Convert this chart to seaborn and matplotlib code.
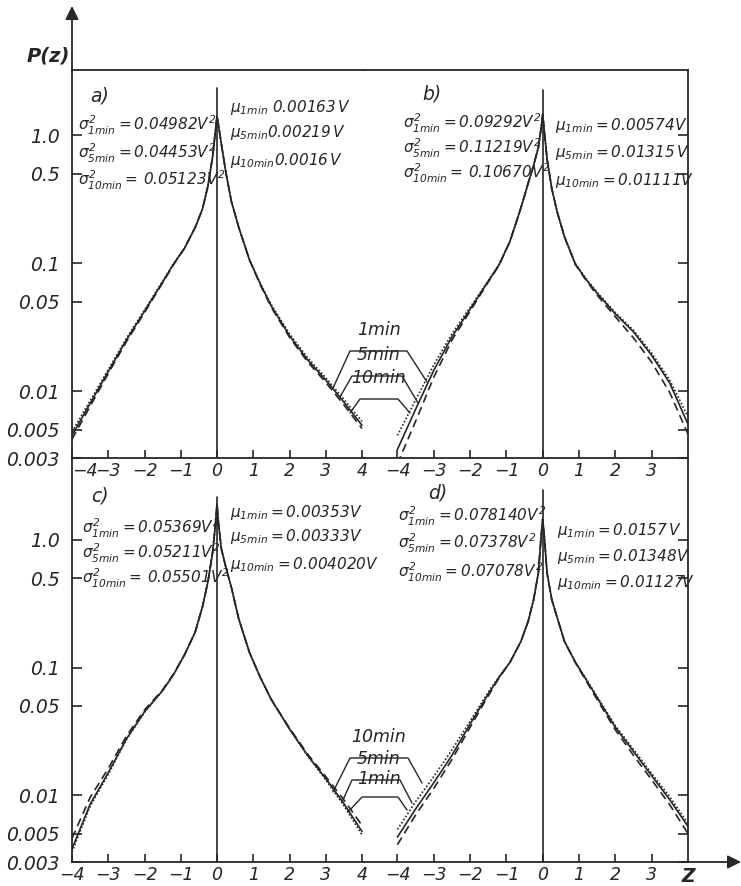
import pandas as pd
import matplotlib.pyplot as plt
import seaborn as sns

sns.set_style("white")
plt.rcParams['font.family'] = ['DejaVu Sans']
plt.rcParams['font.style'] = 'italic'
plt.rcParams['mathtext.fontset'] = 'custom'
plt.rcParams['mathtext.rm'] = 'DejaVu Sans:italic'
plt.rcParams['mathtext.it'] = 'DejaVu Sans:italic'
plt.rcParams['mathtext.bf'] = 'DejaVu Sans:italic:bold'

INK = '#262626'

# ---------------- data ----------------
z = [-4, -3.5, -3, -2.5, -2, -1.5, -1.2, -0.9, -0.6, -0.4, -0.25, -0.12, -0.04, 0,
     0.04, 0.12, 0.25, 0.4, 0.6, 0.9, 1.2, 1.5, 2, 2.5, 3, 3.5, 4]

a_1min = [0.0048, 0.0084, 0.0147, 0.0258, 0.043, 0.072, 0.099, 0.13, 0.19, 0.265, 0.4, 0.68, 1.1, 1.4,
          1.2, 0.85, 0.5, 0.3, 0.19, 0.105, 0.069, 0.047, 0.028, 0.0182, 0.0127, 0.0086, 0.0058]
a_5min = [0.0045, 0.008, 0.0142, 0.025, 0.042, 0.071, 0.098, 0.13, 0.19, 0.265, 0.4, 0.68, 1.1, 1.4,
          1.2, 0.85, 0.5, 0.3, 0.19, 0.105, 0.068, 0.046, 0.027, 0.0175, 0.0122, 0.0082, 0.0054]
a_10min = [0.0042, 0.0076, 0.0137, 0.0243, 0.041, 0.07, 0.097, 0.13, 0.19, 0.265, 0.4, 0.68, 1.1, 1.4,
           1.2, 0.85, 0.5, 0.3, 0.19, 0.105, 0.067, 0.045, 0.0263, 0.0169, 0.0117, 0.0078, 0.0051]

b_1min = [0.0045, 0.0085, 0.016, 0.028, 0.045, 0.073, 0.098, 0.148, 0.27, 0.42, 0.58, 0.8, 1.15, 1.45,
          1.1, 0.65, 0.38, 0.25, 0.16, 0.099, 0.075, 0.059, 0.041, 0.0298, 0.0198, 0.0121, 0.0063]
b_5min = [0.0035, 0.0072, 0.0145, 0.0265, 0.0435, 0.072, 0.097, 0.148, 0.27, 0.42, 0.58, 0.8, 1.15, 1.45,
          1.1, 0.65, 0.38, 0.25, 0.16, 0.098, 0.074, 0.058, 0.04, 0.029, 0.019, 0.0115, 0.0055]
b_10min = [0.0027, 0.0058, 0.0128, 0.025, 0.042, 0.071, 0.096, 0.148, 0.27, 0.42, 0.58, 0.8, 1.15, 1.45,
           1.1, 0.65, 0.38, 0.25, 0.16, 0.097, 0.073, 0.056, 0.038, 0.026, 0.0168, 0.0097, 0.0046]

c_1min = [0.0036, 0.0082, 0.0146, 0.0272, 0.0447, 0.066, 0.088, 0.125, 0.19, 0.3, 0.47, 0.8, 1.35, 1.9,
          1.35, 0.85, 0.6, 0.42, 0.24, 0.13, 0.083, 0.056, 0.033, 0.0203, 0.0132, 0.0083, 0.0049]
c_5min = [0.0038, 0.0085, 0.015, 0.0276, 0.045, 0.066, 0.088, 0.125, 0.19, 0.3, 0.47, 0.8, 1.35, 1.9,
          1.35, 0.85, 0.6, 0.42, 0.24, 0.13, 0.083, 0.056, 0.033, 0.0205, 0.0135, 0.0086, 0.0052]
c_10min = [0.0046, 0.0096, 0.0162, 0.029, 0.0465, 0.067, 0.089, 0.125, 0.19, 0.3, 0.47, 0.8, 1.35, 1.9,
           1.35, 0.85, 0.6, 0.42, 0.24, 0.13, 0.083, 0.056, 0.0335, 0.021, 0.014, 0.0092, 0.0058]

d_1min = [0.0054, 0.0089, 0.014, 0.0226, 0.038, 0.064, 0.085, 0.11, 0.16, 0.23, 0.34, 0.55, 1.1, 1.45,
          1.1, 0.55, 0.34, 0.245, 0.16, 0.11, 0.081, 0.059, 0.035, 0.0228, 0.0148, 0.0097, 0.006]
d_5min = [0.0047, 0.0078, 0.0125, 0.0205, 0.036, 0.062, 0.084, 0.11, 0.16, 0.23, 0.34, 0.55, 1.1, 1.45,
          1.1, 0.55, 0.34, 0.245, 0.16, 0.11, 0.08, 0.058, 0.034, 0.022, 0.0142, 0.0092, 0.0057]
d_10min = [0.0041, 0.007, 0.0113, 0.019, 0.034, 0.06, 0.083, 0.11, 0.16, 0.23, 0.34, 0.55, 1.1, 1.45,
           1.1, 0.55, 0.34, 0.245, 0.16, 0.109, 0.078, 0.056, 0.0325, 0.0205, 0.0132, 0.0084, 0.005]

y_ticks = [0.003, 0.005, 0.01, 0.05, 0.1, 0.5, 1.0]
y_labels = ['0.003', '0.005', '0.01', '0.05', '0.1', '0.5', '1.0']

sigma_a = [r'$\sigma^2_{1min}{=}0.04982V^2$', r'$\sigma^2_{5min}{=}0.04453V^2$', r'$\sigma^2_{10min}{=}\,0.05123V^2$']
mu_a = [r'$\mu_{1min}\ 0.00163\,V$', r'$\mu_{5min}0.00219\,V$', r'$\mu_{10min}0.0016\,V$']
sigma_b = [r'$\sigma^2_{1min}{=}0.09292V^2$', r'$\sigma^2_{5min}{=}0.11219V^2$', r'$\sigma^2_{10min}{=}\,0.10670V^2$']
mu_b = [r'$\mu_{1min}{=}0.00574V$', r'$\mu_{5min}{=}0.01315\,V$', r'$\mu_{10min}{=}0.01111V$']
sigma_c = [r'$\sigma^2_{1min}{=}0.05369V^2$', r'$\sigma^2_{5min}{=}0.05211V^2$', r'$\sigma^2_{10min}{=}\,0.05501V^2$']
mu_c = [r'$\mu_{1min}{=}0.00353V$', r'$\mu_{5min}{=}0.00333V$', r'$\mu_{10min}{=}0.004020V$']
sigma_d = [r'$\sigma^2_{1min}{=}0.078140V^2$', r'$\sigma^2_{5min}{=}0.07378V^2$', r'$\sigma^2_{10min}{=}0.07078V^2$']
mu_d = [r'$\mu_{1min}{=}0.0157\,V$', r'$\mu_{5min}{=}0.01348V$', r'$\mu_{10min}{=}0.01127V$']

series = ['1min', '5min', '10min']
dash_map = {'1min': (1, 1.2), '5min': '', '10min': (5, 3)}

# ---------------- figure in pixel units ----------------
W, H = 741, 886
fig = plt.figure(figsize=(W / 100, H / 100), dpi=100)
fig.patch.set_facecolor('white')


def px_axes(x0, y0, x1, y1):
    ax = fig.add_axes([x0 / W, 1 - y1 / H, (x1 - x0) / W, (y1 - y0) / H])
    ax.patch.set_alpha(0)
    return ax


panels = [
    # name, box, xlim, ylim, data, left side?, top row?, centre line top
    ('a', (72, 70, 364, 458), (-4, 4.055), (0.003, 3.22), (a_1min, a_5min, a_10min), True, True, 0.954),
    ('b', (364, 70, 688, 458), (-4.92, 4.0), (0.003, 3.22), (b_1min, b_5min, b_10min), False, True, 0.948),
    ('c', (72, 458, 364, 862), (-4, 4.055), (0.003, 4.37), (c_1min, c_5min, c_10min), True, False, 0.903),
    ('d', (364, 458, 688, 862), (-4.92, 4.0), (0.003, 4.37), (d_1min, d_5min, d_10min), False, False, 0.92),
]

for name, box, xlim, ylim, vals, is_left, is_top, cl_top in panels:
    ax = px_axes(*box)
    df = pd.DataFrame({
        'z': z * 3,
        'p': vals[0] + vals[1] + vals[2],
        'series': sum([[s] * len(z) for s in series], []),
    })
    sns.lineplot(data=df, x='z', y='p', style='series', dashes=dash_map,
                 color=INK, linewidth=1.2, ax=ax, legend=False, sort=False)
    ax.set_yscale('log')
    ax.set_xlim(*xlim)
    ax.set_ylim(*ylim)
    ax.set_xlabel('')
    ax.set_ylabel('')
    ax.axvline(0, ymin=0, ymax=cl_top, color=INK, lw=1.2)

    for s in ax.spines.values():
        s.set_color(INK)
        s.set_linewidth(1.3)
    ax.spines['top'].set_visible(is_top)
    ax.spines['left'].set_visible(is_left)
    ax.spines['right'].set_visible(not is_left)

    ax.minorticks_off()
    ax.set_yticks(y_ticks)
    if is_left:
        ax.set_yticklabels(y_labels)
        ax.tick_params(axis='y', direction='in', length=7, width=1.2, pad=9,
                       labelsize=13.5, colors=INK, left=True, right=False)
        ax.set_xticks(range(-4, 5))
        ax.set_xticklabels(['−4', '−3', '−2', '−1', '0', '1', '2', '3', '4'])
    else:
        ax.yaxis.tick_right()
        ax.tick_params(axis='y', direction='in', length=7, width=1.2,
                       labelright=False, right=True, left=False, colors=INK)
        ax.set_xticks(range(-4, 4))
        ax.set_xticklabels(['−4', '−3', '−2', '−1', '0', '1', '2', '3'])
    ax.tick_params(axis='x', direction='in', length=6, width=1.2, pad=3,
                   labelsize=12.5, colors=INK, bottom=True, top=False)
    if is_left:
        ax.get_xticklabels()[0].set_ha('left' if is_top else 'center')

# ---------------- overlay: arrows, labels, annotations ----------------
ov = fig.add_axes([0, 0, 1, 1])
ov.set_xlim(0, W)
ov.set_ylim(H, 0)
ov.axis('off')
ov.patch.set_alpha(0)

arrow = dict(arrowstyle='-|>', color=INK, lw=1.3, mutation_scale=20, shrinkA=0, shrinkB=0)
ov.annotate('', xy=(72, 6), xytext=(72, 72), arrowprops=arrow)
ov.annotate('', xy=(741, 862), xytext=(686, 862), arrowprops=arrow)
ov.text(48, 56, 'P(z)', fontsize=14, fontweight='bold', color=INK, ha='center', va='center')
ov.text(688, 877, 'Z', fontsize=13.5, fontweight='bold', color=INK, ha='center', va='center')

for lab, x, y in [('a)', 100, 96), ('b)', 432, 94), ('c)', 100, 496), ('d)', 438, 493)]:
    ov.text(x, y, lab, fontsize=13.5, color=INK, ha='center', va='center')

ann = [
    (sigma_a, 78, (125, 153, 180)), (mu_a, 230, (107, 132, 160)),
    (sigma_b, 403, (123, 148, 173)), (mu_b, 555, (125, 152, 180)),
    (sigma_c, 82, (528, 553, 578)), (mu_c, 230, (512, 537, 565)),
    (sigma_d, 398, (516, 543, 572)), (mu_d, 557, (530, 557, 583)),
]
for texts, x, ys in ann:
    for t, y in zip(texts, ys):
        ov.text(x, y, t, fontsize=11, color=INK, ha='left', va='center')

# legend brackets between the panels
top_leg = [('1min', 341, [(333, 388), (350, 351), (407, 351), (427, 382)]),
           ('5min', 366, [(340, 397), (352, 376), (402, 376), (418, 403)]),
           ('10min', 389, [(350, 413), (360, 399), (398, 399), (410, 413)])]
bot_leg = [('10min', 748, [(333, 792), (350, 758), (408, 758), (422, 783)]),
           ('5min', 770, [(342, 802), (352, 780), (400, 780), (412, 803)]),
           ('1min', 790, [(348, 812), (362, 797), (398, 797), (407, 810)])]
for lab, ty, pts in top_leg + bot_leg:
    ov.text(379, ty - 2, lab, fontsize=12.5, color=INK, ha='center', va='bottom')
    ov.plot([p[0] for p in pts], [p[1] for p in pts], color=INK, lw=1.0)

fig.savefig('out.png', dpi=100, facecolor='white')
